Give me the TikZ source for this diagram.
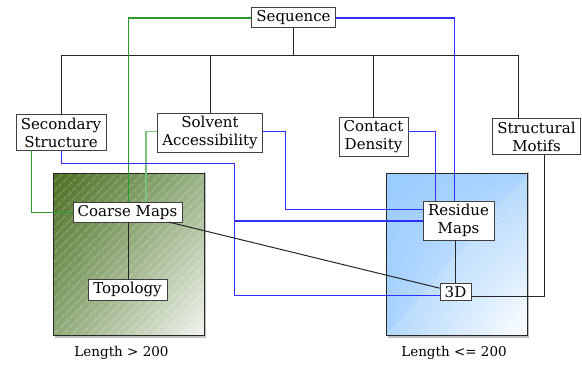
\documentclass[tikz,border=0pt]{standalone}
\usepackage{fontspec}
\setmainfont{DejaVu Serif}
\usetikzlibrary{positioning,patterns.meta,shadings}
\definecolor{seqgreen}{HTML}{2A9A2A}
\definecolor{sagreen}{HTML}{7DC07D}
\definecolor{mapblue}{HTML}{2F2FFF}
\definecolor{longA}{HTML}{4B6F22}
\definecolor{longB}{HTML}{9AB386}
\definecolor{longC}{HTML}{F2F4EF}
\definecolor{shortA}{HTML}{99CCFF}
\definecolor{shortB}{HTML}{A9D3FF}

\begin{document}
\begin{tikzpicture}[x=1pt,y=-1pt,
		feat/.style={draw=black!75,fill=white,align=center,inner xsep=5pt,inner ysep=3pt,outer sep=0pt,font=\fontsize{15}{18}\selectfont},
		region/.style={minimum height=162pt,outer sep=0pt},
		caption/.style={font=\fontsize{13.5}{15}\selectfont},
		tree/.style={draw=black!85,line width=1pt},
		toblue/.style={draw=mapblue,line width=1.1pt},
		togreen/.style={draw=seqgreen,line width=1.1pt}]
		\useasboundingbox (0,0) rectangle (582,366);

		% length groups
		\node[region,minimum width=151pt,shade,upper left=longA,upper right=longB,lower left=longB!85!longA,lower right=longC]	(long)	at (128.5,255)	{};
		\path[pattern={Lines[angle=45,distance=6.5pt,line width=2pt]},pattern color=white,opacity=.15]	(long.south west)	rectangle	(long.north east);
		\node[region,minimum width=141pt,shade,upper left=shortA,upper right=shortB,lower left=shortB,lower right=white]	(short)	at (456.5,255)	{};
		\path[pattern={Lines[angle=45,distance=3pt,line width=1pt]},pattern color=white,opacity=.3]	(short.south west)	--	(short.north east)	--	(short.south east)	--	cycle;
		\draw[draw=black!25,line width=1.5pt]	([shift={(1.5pt,-1pt)}]long.south west)	-|	([shift={(1pt,1.5pt)}]long.north east);
		\draw[draw=black!25,line width=1.5pt]	([shift={(1.5pt,-1pt)}]short.south west)	-|	([shift={(1pt,1.5pt)}]short.north east);
		\draw[draw=black!85,line width=1pt]	(long.south west)	rectangle	(long.north east);
		\draw[draw=black!85,line width=1pt]	(short.south west)	rectangle	(short.north east);
		\node[caption,below=7pt of long,xshift=-7pt]		(longlbl)	{Length > 200};
		\node[caption,below=7pt of short,xshift=-2.5pt]		(shortlbl)	{Length <= 200};

		% features
		\node[feat]	(seq)	at (293.5,17.5)		{Sequence};
		\node[feat]	(ss)	at (61,132.5)		{Secondary\\Structure};
		\node[feat]	(sa)	at (210,132.5)		{Solvent\\Accessibility};
		\node[feat]	(cd)	at (373.5,136.5)	{Contact\\Density};
		\node[feat]	(sm)	at (536.5,136.5)	{Structural\\Motifs};
		\node[feat]	(cm)	at (127.5,212)		{Coarse Maps};
		\node[feat,below=57pt of cm]	(top)	{Topology};
		\node[feat]	(rm)	at (458.5,220.5)	{Residue\\Maps};
		\node[feat]	(3d)	at (455.5,292)		{3D};

		\coordinate	(bl)	at (61.5,55.5);
		\coordinate	(br)	at (518.5,55.5);
		\coordinate	(bend)	at (234.5,163.5);

		% sequence tree
		\draw[tree]	(seq.south)	--	(seq.south|-bl);
		\draw[tree]	(bl)	--	(br);
		\draw[tree]	(bl)	--	(bl|-ss.north);
		\draw[tree]	(sa.north|-bl)	--	(sa.north);
		\draw[tree]	(cd.north|-bl)	--	(cd.north);
		\draw[tree]	(br)	--	(br|-sm.north);

		% maps
		\draw[togreen]	([yshift=-.5pt]seq.west)	-|	([xshift=1pt]cm.north);
		\draw[togreen]	([xshift=-29.5pt]ss.south)	|-	([yshift=-.5pt]cm.west);
		\draw[draw=sagreen,line width=1.1pt]	([yshift=1pt]sa.west)	-|	([xshift=18.5pt]cm.north);
		\draw[toblue]	([yshift=-.5pt]seq.east)	-|	([xshift=-4pt]rm.north);
		\draw[toblue]	([xshift=.5pt]ss.south)	|-	(bend)	|-	([yshift=-.5pt]rm.west);
		\draw[toblue]	([xshift=.5pt]ss.south)	|-	(bend)	|-	([yshift=-3.5pt]3d.west);
		\draw[toblue]	([yshift=1pt]sa.east)	-|	(285.5,209.5)	--	([yshift=11pt]rm.west);
		\draw[toblue]	([yshift=5pt]cd.east)	-|	([xshift=-23pt]rm.north);
		\draw[tree]	([xshift=8pt]sm.south)	|-	([yshift=-4.5pt]3d.east);
		\draw[tree]	([xshift=1pt]cm.south)	--	([xshift=1pt]cm.south|-top.north);
		\draw[tree]	(cm)	--	(3d);
		\draw[tree]	(3d.north)	--	(3d.north|-rm.south);
	\end{tikzpicture}
\end{document}
